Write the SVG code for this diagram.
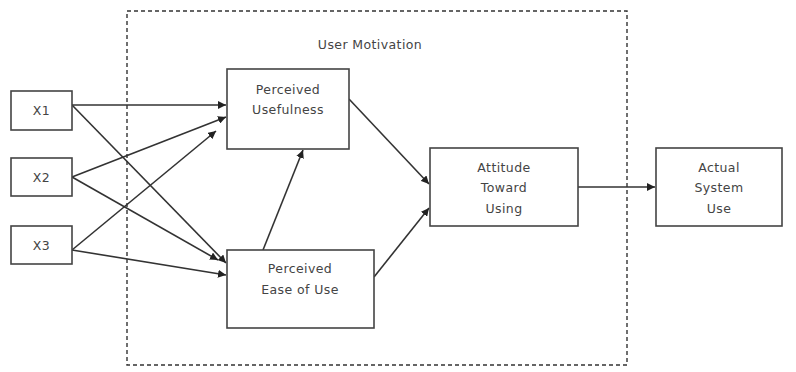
<svg xmlns="http://www.w3.org/2000/svg" width="796" height="372" viewBox="0 0 796 372">
<style>
.box{fill:#fff;stroke:#444;stroke-width:1.6}
.lbl{font-family:"DejaVu Sans",Verdana,sans-serif;font-size:12.5px;letter-spacing:0.4px;fill:#444;text-anchor:middle;dominant-baseline:central}
.cn{stroke:#333;stroke-width:1.6;fill:none;marker-end:url(#ah)}
</style>
<defs>
<marker id="ah" viewBox="0 0 10 10" refX="10" refY="5" markerWidth="8" markerHeight="8" markerUnits="userSpaceOnUse" orient="auto">
<path d="M0,0 L10,5 L0,10 z" fill="#222"/>
</marker>
</defs>
<rect width="796" height="372" fill="#fff"/>
<g id="group-user-motivation">
<rect x="127" y="11" width="500" height="354" fill="none" stroke="#333" stroke-width="1.4" stroke-dasharray="4,3"/>
<text class="lbl" x="370" y="44">User Motivation</text>
</g>
<g id="connectors">
<line class="cn" x1="72" y1="105" x2="226" y2="105"/>
<line class="cn" x1="72" y1="105" x2="226" y2="263"/>
<line class="cn" x1="72" y1="177" x2="226" y2="117"/>
<line class="cn" x1="72" y1="177" x2="218" y2="260"/>
<line class="cn" x1="72" y1="250" x2="216" y2="131"/>
<line class="cn" x1="72" y1="250" x2="226" y2="275"/>
<line class="cn" x1="263" y1="250" x2="303" y2="150"/>
<line class="cn" x1="349" y1="99" x2="429" y2="184"/>
<line class="cn" x1="374" y1="277" x2="429" y2="208"/>
<line class="cn" x1="578" y1="187" x2="655" y2="187"/>
</g>
<g id="x1"><rect class="box" x="11" y="91" width="61" height="39"/><text class="lbl" x="41.5" y="110">X1</text></g>
<g id="x2"><rect class="box" x="11" y="158" width="61" height="38"/><text class="lbl" x="41.5" y="177">X2</text></g>
<g id="x3"><rect class="box" x="11" y="226" width="61" height="38"/><text class="lbl" x="41.5" y="245">X3</text></g>
<g id="perceived-usefulness"><rect class="box" x="227" y="69" width="122" height="80"/><text class="lbl" x="288" y="89">Perceived</text><text class="lbl" x="288" y="109">Usefulness</text></g>
<g id="perceived-ease-of-use"><rect class="box" x="227" y="250" width="147" height="78"/><text class="lbl" x="300" y="268">Perceived</text><text class="lbl" x="300" y="289">Ease of Use</text></g>
<g id="attitude-toward-using"><rect class="box" x="430" y="148" width="148" height="78"/><text class="lbl" x="504" y="167">Attitude</text><text class="lbl" x="504" y="187">Toward</text><text class="lbl" x="504" y="208">Using</text></g>
<g id="actual-system-use"><rect class="box" x="656" y="148" width="126" height="78"/><text class="lbl" x="719" y="167">Actual</text><text class="lbl" x="719" y="187">System</text><text class="lbl" x="719" y="208">Use</text></g>
</svg>
